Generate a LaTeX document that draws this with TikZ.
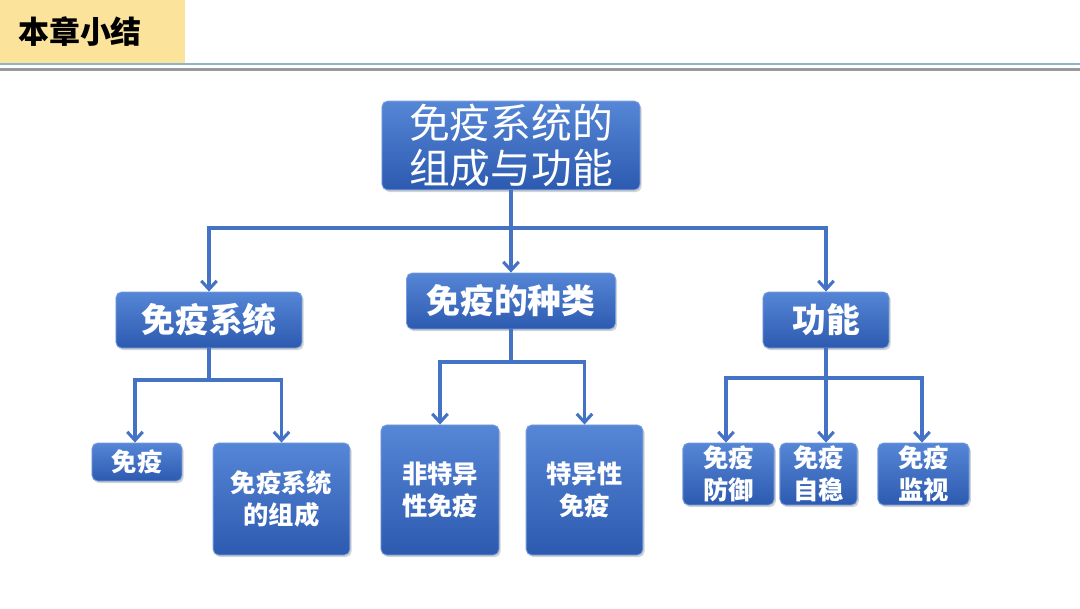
\documentclass[tikz,border=0pt]{standalone}
\usepackage{xcolor}
\usepackage{fontspec}
\usepackage{tikz}
\usetikzlibrary{arrows.meta, positioning, shadows}
\newfontfamily\cjk{Noto Sans CJK SC}

\definecolor{boxtop}{HTML}{5686D6}
\definecolor{boxbot}{HTML}{2C5AB0}
\definecolor{linkblue}{HTML}{4472C4}
\definecolor{headyellow}{HTML}{FBE39B}
\definecolor{rulegray}{HTML}{9A9A9A}
\definecolor{ruleblue}{HTML}{8DB6C8}

\begin{document}
\begin{tikzpicture}[
    x=0.025cm, y=-0.025cm,
    box/.style={rectangle, rounded corners=4pt, draw=boxtop!80!white, line width=0.6pt,
        top color=boxtop, bottom color=boxbot, text=white, align=center,
        drop shadow={opacity=0.35, shadow xshift=1.2pt, shadow yshift=-1.5pt},
        font=\cjk\bfseries, inner sep=0pt},
    bigbox/.style={box, font=\cjk\bfseries\fontsize{24}{30}\selectfont},
    smallbox/.style={box, font=\cjk\bfseries\fontsize{18}{23}\selectfont},
    link/.style={draw=linkblue, line width=2.2pt},
    arrow/.style={link, -{Straight Barb[length=6pt, width=11pt, line width=2.2pt]}}
]
    \useasboundingbox (0,0) rectangle (1080,608);

    % Header
    \fill[headyellow] (0,0) rectangle (185,63);
    \node[font=\cjk\bfseries\fontsize{22}{24}\selectfont] (title) at (80,32) {本章小结};
    \draw[ruleblue, line width=1pt] (0,64) -- (1080,64);
    \draw[rulegray, line width=1.8pt] (0,69.5) -- (1080,69.5);

    % Root
    \node[box, minimum width=6.45cm, minimum height=2.22cm,
          font=\cjk\fontsize{29}{32}\selectfont] (root) at (511,145.5) {免疫系统的\\组成与功能};

    % Second level
    \node[bigbox, minimum width=4.65cm, minimum height=1.4cm] (system) at (209,320) {免疫系统};
    \node[bigbox, minimum width=5.22cm, minimum height=1.4cm] (kinds) at (511,301) {免疫的种类};
    \node[bigbox, minimum width=3.15cm, minimum height=1.4cm] (function) at (826,320) {功能};

    % Third level
    \node[smallbox, minimum width=2.25cm, minimum height=0.95cm] (immune) at (137,462) {免疫};
    \node[smallbox, minimum width=3.42cm, minimum height=2.8cm] (parts) at (281.5,499) {免疫系统\\的组成};
    \node[smallbox, minimum width=2.95cm, minimum height=3.25cm] (innate) at (440,490) {非特异\\性免疫};
    \node[smallbox, minimum width=2.92cm, minimum height=3.25cm] (specific) at (584.5,490) {特异性\\免疫};
    \node[smallbox, minimum width=2.28cm, minimum height=1.55cm] (defense) at (728.5,474) {免疫\\防御};
    \node[smallbox, minimum width=1.93cm, minimum height=1.55cm] (stable) at (818.5,474) {免疫\\自稳};
    \node[smallbox, minimum width=2.28cm, minimum height=1.55cm] (watch) at (923.5,474) {免疫\\监视};

    % Junctions
    \coordinate (rootjoin) at (511,228);
    \coordinate (sysjoin) at (209,380);
    \coordinate (kindjoin) at (511,362);
    \coordinate (funcjoin) at (826,378);

    % Connectors
    \draw[link] (root.south) -- (rootjoin);
    \draw[arrow] (rootjoin) -| (system.north);
    \draw[arrow] (rootjoin) -- (kinds.north);
    \draw[arrow] (rootjoin) -| (function.north);

    \draw[link] (system.south) -- (sysjoin);
    \draw[arrow] (sysjoin) -| (immune.north -| 135,0);
    \draw[arrow] (sysjoin) -| (parts.north);

    \draw[link] (kinds.south) -- (kindjoin);
    \draw[arrow] (kindjoin) -| (innate.north);
    \draw[arrow] (kindjoin) -| (specific.north);

    \draw[link] (function.south) -- (funcjoin);
    \draw[arrow] (funcjoin) -| (defense.north -| 726,0);
    \draw[arrow] (funcjoin) -- (function.south |- stable.north);
    \draw[arrow] (funcjoin) -| (watch.north -| 922,0);
\end{tikzpicture}
\end{document}
